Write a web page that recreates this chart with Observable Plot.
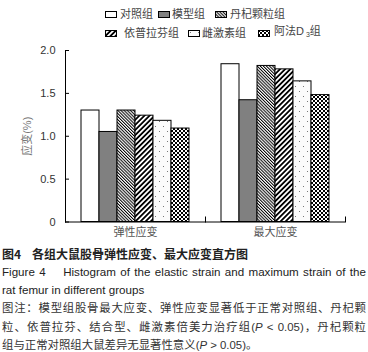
<!DOCTYPE html>
<html><head><meta charset="utf-8">
<script src="https://cdn.jsdelivr.net/npm/d3@7"></script>
<script src="https://cdn.jsdelivr.net/npm/@observablehq/plot@0.6"></script>
<style>
body{margin:0;width:368px;height:352px;overflow:hidden;background:#fff;font-family:"Liberation Sans",Arial,"Noto Sans CJK SC",sans-serif;}
#legend{position:relative;height:44px;font-size:11px;color:#444;font-family:"Liberation Sans","Noto Sans CJK SC",sans-serif;}
.item{position:absolute;display:flex;align-items:center;white-space:nowrap;height:14px;line-height:14px}
.item svg{display:block}
#chart{height:200px}
#chart g[aria-label="y-axis label"] text{fill:#777}
#caption{padding:0 2px;color:#222}
.l1{font-family:"Noto Sans CJK SC",sans-serif;font-weight:bold;font-size:12px;line-height:19px;color:#222}
.en{font-size:11.6px;line-height:18.2px;color:#222}
.zh{font-family:"Liberation Sans","Noto Sans CJK SC",sans-serif;font-size:11.4px;line-height:18.2px;color:#333}
.just{text-align:justify;text-align-last:justify;white-space:nowrap}
</style></head>
<body>
<svg width="0" height="0" style="position:absolute">
  <defs>
    <pattern id="pDan" width="2.2" height="2.2" patternUnits="userSpaceOnUse" patternTransform="rotate(-45)">
      <rect width="2.2" height="2.2" fill="#fff"/><rect width="1" height="2.2" fill="#000"/>
    </pattern>
    <pattern id="pYi" width="3.6" height="3.6" patternUnits="userSpaceOnUse" patternTransform="rotate(45)">
      <rect width="3.6" height="3.6" fill="#fff"/><rect width="1.8" height="3.6" fill="#000"/>
    </pattern>
    <pattern id="pCi" width="8" height="10" patternUnits="userSpaceOnUse">
      <rect width="8" height="10" fill="#fbfbfb"/><rect x="2" y="2" width="1" height="1" fill="#777"/><rect x="6" y="7" width="1" height="1" fill="#777"/>
    </pattern>
    <pattern id="pA" width="4" height="4" patternUnits="userSpaceOnUse">
      <rect width="4" height="4" fill="#fff"/><rect width="2" height="2" fill="#000"/><rect x="2" y="2" width="2" height="2" fill="#000"/>
    </pattern>
  </defs>
</svg>
<div id="legend"></div>
<div id="chart"></div>
<div id="caption">
  <div class="l1">图4&nbsp;&nbsp;&nbsp;&nbsp;各组大鼠股骨弹性应变、最大应变直方图</div>
  <div class="en just">Figure 4&nbsp;&nbsp;&nbsp; Histogram of the elastic strain and maximum strain of the</div>
  <div class="en">rat femur in different groups</div>
  <div class="zh just">图注：模型组股骨最大应变、弹性应变显著低于正常对照组、丹杞颗</div>
  <div class="zh just">粒、依普拉芬、结合型、雌激素倍美力治疗组(<i>P</i> &lt; 0.05)，丹杞颗粒</div>
  <div class="zh">组与正常对照组大鼠差异无显著性意义(<i>P</i> &gt; 0.05)。</div>
</div>
<script>
const categories = ["弹性应变", "最大应变"];
const groups = ["对照组", "模型组", "丹杞颗粒组", "依普拉芬组", "雌激素组", "阿法D3组"];
const elasticStrain = [1.30, 1.05, 1.30, 1.24, 1.18, 1.09];
const maxStrain = [1.84, 1.42, 1.82, 1.78, 1.64, 1.48];
const yTicks = [0, 0.5, 1.0, 1.5, 2.0];
const yLabel = "应变(%)";

const fills = ["#ffffff", "#808080", "url(#pDan)", "url(#pYi)", "url(#pCi)", "url(#pA)"];

const data = [];
groups.forEach((g, i) => {
  data.push({category: categories[0], group: g, value: elasticStrain[i]});
  data.push({category: categories[1], group: g, value: maxStrain[i]});
});

// legend
const legendPos = [[105, 7, 3], [158, 7, 2], [215, 7, 3], [105, 26, 7], [188, 26, 2], [258, 26, 4]];
const legend = document.getElementById("legend");
groups.forEach((g, i) => {
  const [left, top, gap] = legendPos[i];
  const div = document.createElement("div");
  div.className = "item";
  div.style.left = left + "px";
  div.style.top = top + "px";
  const label = g.replace("D3", 'D<sub style="font-size:7px;vertical-align:-2px;margin-left:2px">3</sub>');
  div.innerHTML = `<svg width="12" height="7"><rect x="0.5" y="0.5" width="11" height="6" fill="${fills[i]}" stroke="#000"/></svg><span style="margin-left:${gap}px">${label}</span>`;
  legend.appendChild(div);
});

const H = 200, mT = 6, mB = 22.5;
const chart = Plot.plot({
  width: 368, height: H, marginTop: mT, marginBottom: mB, marginLeft: 64, marginRight: 23,
  style: {fontFamily: '"Liberation Sans", Arial, "Noto Sans CJK SC", sans-serif', fontSize: "11px", background: "transparent"},
  fx: {domain: categories, padding: 0, label: null},
  x: {domain: groups, paddingInner: 0, paddingOuter: 0.7, axis: null, label: null},
  y: {domain: [0, 2], label: null},
  color: {type: "ordinal", domain: groups, range: fills},
  marks: [
    Plot.barY(data, {fx: "category", x: "group", y: "value", fill: "group", stroke: "#000", strokeWidth: 1}),
    Plot.ruleY([0], {stroke: "#000"}),
    Plot.frame({anchor: "left", facetAnchor: "left", stroke: "#000"}),
    Plot.frame({anchor: "right", insetTop: H - mT - mB - 5, stroke: "#000"}),
    Plot.axisY({ticks: yTicks, tickSize: -4, tickPadding: 14, tickFormat: d => d === 0 ? "0" : d.toFixed(1),
      label: yLabel, labelAnchor: "center", labelOffset: 42, labelArrow: "none", fill: "#333", stroke: "#000"}),
    Plot.axisFx({anchor: "bottom", tickSize: 0, tickPadding: 6, label: null, fill: "#555"})
  ]
});
document.getElementById("chart").appendChild(chart);
</script>
</body></html>
